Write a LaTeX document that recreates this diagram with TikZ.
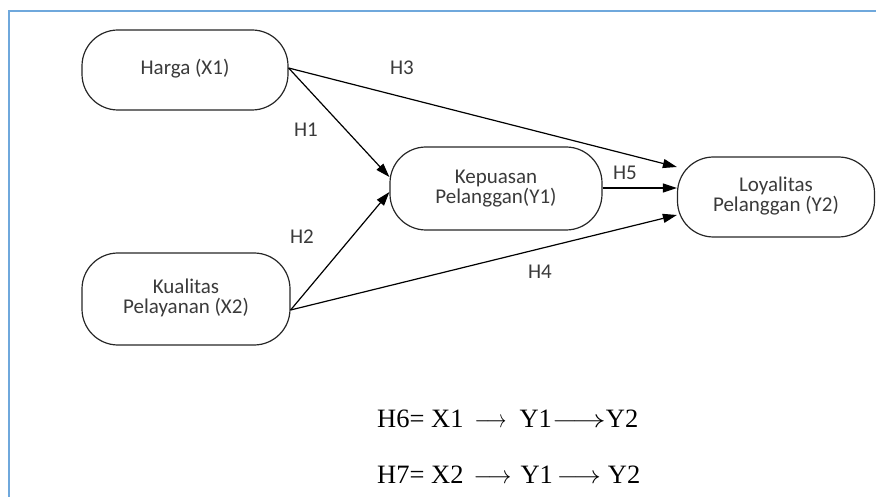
\documentclass[tikz,border=0pt]{standalone}
\usepackage{fontspec}
\usepackage{graphicx}
\setmainfont{Carlito}
\newfontfamily\timesfont{Liberation Serif}
\usetikzlibrary{arrows.meta}
\definecolor{frameblue}{HTML}{6FA8DC}
\definecolor{boxtext}{HTML}{3A3A3A}
\newcommand\fArr[1]{\makebox[#1][c]{\resizebox{#1}{\height}{$\longrightarrow$}}}
\tikzset{
  varbox/.style={draw=black!85, line width=1.2pt, rounded corners=36pt, align=center,
    font=\fontsize{21}{18.5}\selectfont, text=boxtext, inner sep=0pt},
  conn/.style={line width=1.2pt, -{Triangle[length=14pt,width=9pt]}},
  hyp/.style={font=\fontsize{21}{18}\selectfont, text=boxtext},
  formula/.style={font=\timesfont\fontsize{26.5}{28}\selectfont, anchor=base west, inner sep=0pt},
}
\begin{document}
\begin{tikzpicture}[x=1pt,y=-1pt]
\useasboundingbox (0,0) rectangle (876,497);
\draw[frameblue, line width=2.5pt] (9,497) -- (9,11) -- (877,11);

\node[varbox, minimum width=206pt, minimum height=80pt] (harga) at (185,70) {\raisebox{6pt}{Harga (X1)}};
\node[varbox, minimum width=212pt, minimum height=83pt] (kep) at (496,188.5) {Kepuasan\\Pelanggan(Y1)};
\node[varbox, minimum width=197pt, minimum height=80pt] (loy) at (776,197) {\raisebox{3pt}{\begin{tabular}{@{}c@{}}Loyalitas\\Pelanggan (Y2)\end{tabular}}};
\node[varbox, minimum width=208pt, minimum height=92pt] (kual) at (186,299) {\raisebox{6pt}{\begin{tabular}{@{}c@{}}Kualitas\\Pelayanan (X2)\end{tabular}}};

\draw[conn] ([yshift=2pt]harga.east) -- ([yshift=11.5pt]kep.west);
\draw[conn] ([yshift=2pt]harga.east) -- ([xshift=0pt,yshift=30pt]loy.west);
\draw[conn] ([yshift=-11pt]kual.east) -- ([yshift=-3.5pt]kep.west);
\draw[conn] ([yshift=-11pt]kual.east) -- ([yshift=-18pt]loy.west);
\draw[conn] ([yshift=0.5pt]kep.east) -- ([yshift=9pt]loy.west);

\node[hyp] (h1) at (306,130) {H1};
\node[hyp] (h2) at (302,237) {H2};
\node[hyp] (h3) at (402,68) {H3};
\node[hyp] (h4) at (540,272) {H4};
\node[hyp] (h5) at (625,173) {H5};

\node[formula] (h6) at (377,427) {H6= X1\hspace{11pt}\fArr{32pt}\hspace{13pt}Y1\fArr{54pt}Y2};
\node[formula] (h7) at (377,483) {H7= X2\hspace{10pt}\fArr{38pt}\hspace{9pt}Y1\hspace{4pt}\fArr{44pt}\hspace{7pt}Y2};
\end{tikzpicture}
\end{document}
